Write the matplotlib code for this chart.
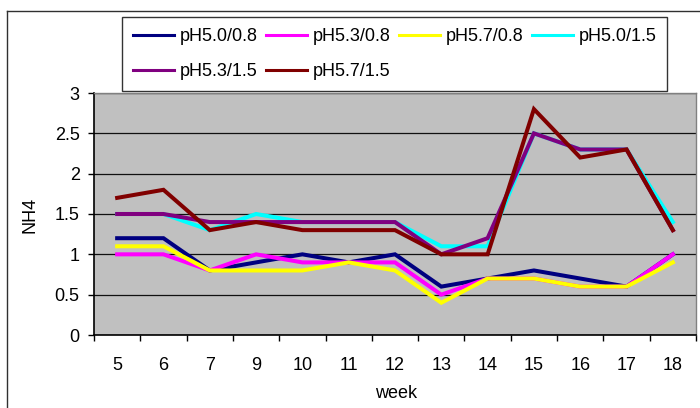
import matplotlib
matplotlib.use("Agg")
import matplotlib.pyplot as plt
from matplotlib.lines import Line2D

weeks = ["5", "6", "7", "9", "10", "11", "12", "13", "14", "15", "16", "17", "18"]
ph50_08 = [1.2, 1.2, 0.8, 0.9, 1.0, 0.9, 1.0, 0.6, 0.7, 0.8, 0.7, 0.6, 1.0]
ph53_08 = [1.0, 1.0, 0.8, 1.0, 0.9, 0.9, 0.9, 0.5, 0.7, 0.7, 0.6, 0.6, 1.0]
ph57_08 = [1.1, 1.1, 0.8, 0.8, 0.8, 0.9, 0.8, 0.4, 0.7, 0.7, 0.6, 0.6, 0.9]
ph50_15 = [1.5, 1.5, 1.3, 1.5, 1.4, 1.4, 1.4, 1.1, 1.1, 2.5, 2.3, 2.3, 1.4]
ph53_15 = [1.5, 1.5, 1.4, 1.4, 1.4, 1.4, 1.4, 1.0, 1.2, 2.5, 2.3, 2.3, 1.3]
ph57_15 = [1.7, 1.8, 1.3, 1.4, 1.3, 1.3, 1.3, 1.0, 1.0, 2.8, 2.2, 2.3, 1.3]

series = [
    ("pH5.0/0.8", ph50_08, "#000080"),
    ("pH5.3/0.8", ph53_08, "#FF00FF"),
    ("pH5.7/0.8", ph57_08, "#FFFF00"),
    ("pH5.0/1.5", ph50_15, "#00FFFF"),
    ("pH5.3/1.5", ph53_15, "#800080"),
    ("pH5.7/1.5", ph57_15, "#800000"),
]

plt.rcParams['font.family'] = ['Liberation Sans', 'DejaVu Sans']
FS = 13

W, H = 700, 408
fig = plt.figure(figsize=(W / 100, H / 100), dpi=100)
fig.patch.set_facecolor("white")

# outer chart frame (top and left visible)
fig.add_artist(Line2D([7 / W, 1.0], [1 - 11 / H, 1 - 11 / H], transform=fig.transFigure,
                      color="#303030", lw=1.0))
fig.add_artist(Line2D([7 / W, 7 / W], [0.0, 1 - 11 / H], transform=fig.transFigure,
                      color="#303030", lw=1.0))

ax = fig.add_axes([94 / W, 1 - 335 / H, (696 - 94) / W, (335 - 93) / H])
ax.set_facecolor("#C0C0C0")

x = list(range(len(weeks)))
handles = []
for name, vals, col in series:
    h, = ax.plot(x, vals, color=col, lw=2.9, label=name, solid_joinstyle="miter")
    handles.append(h)

ax.set_xlim(-0.5, len(weeks) - 0.5)
ax.set_ylim(0, 3)
ax.set_yticks([0, 0.5, 1, 1.5, 2, 2.5, 3])
ax.set_yticklabels(["0", "0.5", "1", "1.5", "2", "2.5", "3"], fontsize=FS)
ax.yaxis.grid(True, color="#101010", lw=0.9)
ax.set_axisbelow(True)

ax.set_xticks([i - 0.5 for i in range(len(weeks) + 1)])
ax.set_xticklabels([])
ax.set_xticks(x, minor=True)
ax.set_xticklabels(weeks, minor=True, fontsize=FS)
ax.tick_params(axis="x", which="major", direction="out", length=4.3, width=1, color="black")
ax.tick_params(axis="x", which="minor", length=0, pad=16)
ax.tick_params(axis="y", direction="out", length=4.3, width=1, color="black", pad=6)

for s in ["top", "right"]:
    ax.spines[s].set_color("#808080")
    ax.spines[s].set_linewidth(1.0)
for s in ["left", "bottom"]:
    ax.spines[s].set_color("black")
    ax.spines[s].set_linewidth(1.2)

fig.text(30 / W, 1 - 215 / H, "NH4", rotation=90, ha="center", va="center", fontsize=FS)
fig.text(396 / W, 1 - 393 / H, "week", ha="center", va="center", fontsize=FS)

# legend filled row by row (matplotlib fills column-first)
order = [0, 4, 1, 5, 2, 3]
leg = fig.legend(handles=[handles[i] for i in order], loc="upper left",
                 bbox_to_anchor=(122 / W, 1 - 17 / H),
                 ncol=4, fontsize=FS, frameon=True, fancybox=False, shadow=False,
                 handlelength=2.3, handletextpad=0.3, columnspacing=0.45,
                 labelspacing=1.0, borderpad=0.6, borderaxespad=0)
leg.get_frame().set_edgecolor("black")
leg.get_frame().set_linewidth(1.0)
for l in leg.get_lines():
    l.set_linewidth(2.2)

fig.savefig("out.png", dpi=100)
